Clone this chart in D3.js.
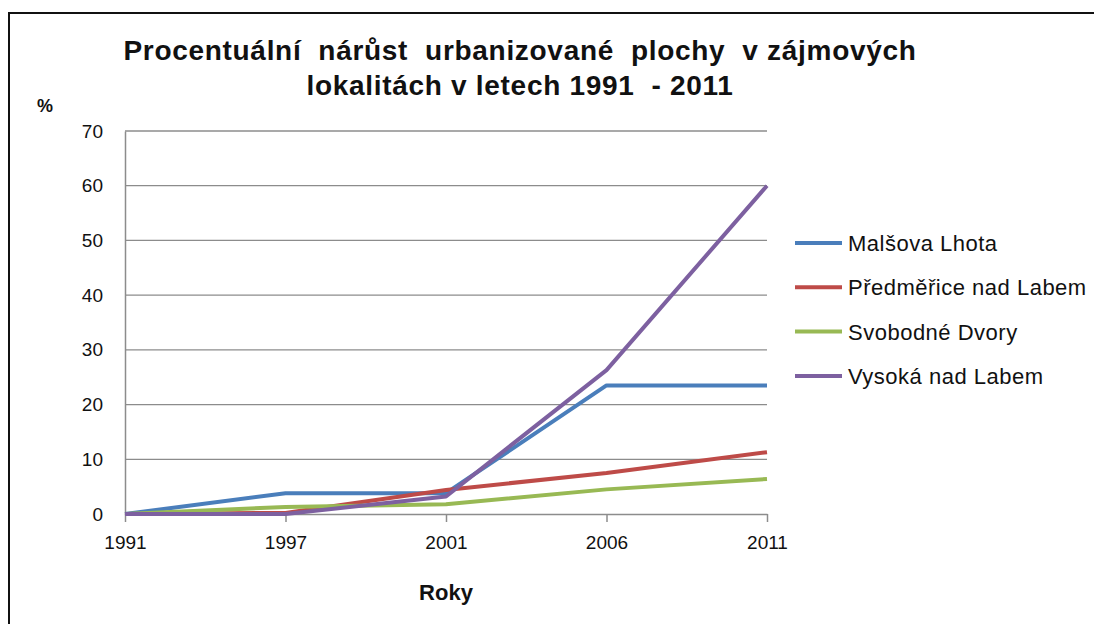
<!DOCTYPE html>
<html>
<head>
<meta charset="utf-8">
<script src="https://cdn.jsdelivr.net/npm/d3@7"></script>
<style>
  body { margin: 0; background: #fff; }
  svg { display: block; font-family: "Liberation Sans", Arial, sans-serif; }
</style>
</head>
<body>
<div id="chart"></div>
<script>
const W = 1094, H = 624;

// data
const years = ["1991", "1997", "2001", "2006", "2011"];
const seriesNames = ["Malšova Lhota", "Předměřice nad Labem", "Svobodné Dvory", "Vysoká nad Labem"];
const malsovaLhota = [0, 3.8, 3.8, 23.5, 23.5];
const predmerice = [0, 0.2, 4.4, 7.5, 11.3];
const svobodneDvory = [0, 1.3, 1.8, 4.5, 6.4];
const vysoka = [0, 0, 3.2, 26.3, 60];
const yTicks = [0, 10, 20, 30, 40, 50, 60, 70];
const colors = ["#4a7ebb", "#be4b48", "#98b954", "#7d60a0"];

const allSeries = [malsovaLhota, predmerice, svobodneDvory, vysoka];

const plotL = 125, plotR = 767, plotT = 131, plotB = 514;

const svg = d3.select("#chart").append("svg").attr("width", W).attr("height", H);

// outer frame, cropped at right and bottom
svg.append("rect")
    .attr("x", 9).attr("y", 13)
    .attr("width", W + 20).attr("height", H + 20)
    .attr("fill", "none").attr("stroke", "#111").attr("stroke-width", 2);

const x = d3.scalePoint().domain(years).range([plotL, plotR]);
const y = d3.scaleLinear().domain([0, 70]).range([plotB, plotT]);

// gridlines
svg.append("g")
    .selectAll("line")
    .data(yTicks.filter(d => d > 0))
    .enter().append("line")
    .attr("x1", plotL).attr("x2", plotR)
    .attr("y1", d => y(d)).attr("y2", d => y(d))
    .attr("stroke", "#8c8c8c").attr("stroke-width", 1.3);

// y axis
const yAxis = svg.append("g")
    .attr("transform", `translate(${plotL},0)`)
    .call(d3.axisLeft(y).tickValues(yTicks).tickSize(0).tickPadding(22));
yAxis.select(".domain").attr("stroke", "#8c8c8c").attr("stroke-width", 1.5);
yAxis.selectAll("text")
    .attr("font-size", "19px").attr("fill", "#111")
    .attr("font-family", "Liberation Sans, Arial");

// x axis
const xAxis = svg.append("g")
    .attr("transform", `translate(0,${plotB})`)
    .call(d3.axisBottom(x).tickSizeInner(8).tickSizeOuter(0).tickPadding(14));
xAxis.select(".domain").attr("stroke", "#8c8c8c").attr("stroke-width", 1.5);
xAxis.selectAll(".tick line").attr("stroke", "#8c8c8c").attr("stroke-width", 1.5);
xAxis.selectAll("text")
    .attr("font-size", "19px").attr("fill", "#111")
    .attr("font-family", "Liberation Sans, Arial");

// lines
const line = d3.line()
    .x((d, i) => x(years[i]))
    .y(d => y(d));

svg.append("g")
    .selectAll("path")
    .data(allSeries)
    .enter().append("path")
    .attr("d", line)
    .attr("fill", "none")
    .attr("stroke", (d, i) => colors[i])
    .attr("stroke-width", 4)
    .attr("stroke-linejoin", "round");

// title
const title = svg.append("text")
    .attr("text-anchor", "middle")
    .style("white-space", "pre")
    .attr("letter-spacing", "0.7")
    .attr("font-size", "28px").attr("font-weight", "bold").attr("fill", "#111");
title.append("tspan").attr("x", 520).attr("y", 60).text("Procentuální  nárůst  urbanizované  plochy  v zájmových");
title.append("tspan").attr("x", 520).attr("y", 95).text("lokalitách v letech 1991  - 2011");

// axis titles
svg.append("text")
    .attr("x", 45).attr("y", 112)
    .attr("text-anchor", "middle")
    .attr("font-size", "18px").attr("font-weight", "bold").attr("fill", "#111")
    .text("%");

svg.append("text")
    .attr("x", 446).attr("y", 600)
    .attr("text-anchor", "middle")
    .attr("font-size", "22px").attr("font-weight", "bold").attr("fill", "#111")
    .text("Roky");

// legend
const legend = svg.append("g")
    .selectAll("g")
    .data(seriesNames)
    .enter().append("g")
    .attr("transform", (d, i) => `translate(795,${243 + i * 44.3})`);
legend.append("line")
    .attr("x1", 0).attr("x2", 47)
    .attr("stroke", (d, i) => colors[i]).attr("stroke-width", 4);
legend.append("text")
    .attr("x", 53).attr("y", 8)
    .attr("font-size", "22px").attr("letter-spacing", "0.5").attr("fill", "#111")
    .text(d => d);
</script>
</body>
</html>
